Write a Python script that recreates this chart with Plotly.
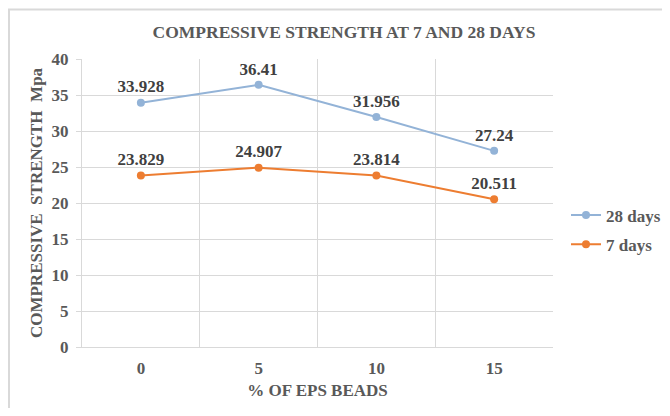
import plotly.graph_objects as go

categories = ["0", "5", "10", "15"]
days28 = [33.928, 36.41, 31.956, 27.24]
days7 = [23.829, 24.907, 23.814, 20.511]
labels28 = ["33.928", "36.41", "31.956", "27.24"]
labels7 = ["23.829", "24.907", "23.814", "20.511"]
y_ticks = [0, 5, 10, 15, 20, 25, 30, 35, 40]

FONT = "Liberation Serif"
GREY = "#595959"
W, H = 654, 400
L, T, PW, PH = 74, 51, 471, 288

fig = go.Figure()
fig.add_trace(go.Scatter(
    x=categories, y=days28, name="28 days", mode="lines+markers+text",
    legendgroup="a",
    line=dict(color="#93B3D7", width=2), marker=dict(size=8, color="#93B3D7"),
    text=labels28, textposition="top center",
    textfont=dict(family=FONT, size=17, color="#404040", weight="bold"),
))
fig.add_trace(go.Scatter(
    x=categories, y=days7, name="7 days", mode="lines+markers+text",
    legendgroup="b",
    line=dict(color="#ED7D31", width=2), marker=dict(size=8, color="#ED7D31"),
    text=labels7, textposition="top center",
    textfont=dict(family=FONT, size=17, color="#404040", weight="bold"),
))

fig.update_layout(
    width=W, height=H,
    margin=dict(l=L, r=W - L - PW, t=T, b=H - T - PH),
    paper_bgcolor="white", plot_bgcolor="white",
    font=dict(family=FONT, color=GREY, size=15, weight="bold"),
    title=dict(text="COMPRESSIVE STRENGTH AT 7 AND 28 DAYS", x=336 / W, xanchor="center",
               xref="container", y=1 - 24 / H, yanchor="middle",
               font=dict(family=FONT, size=17.5, color=GREY, weight="bold")),
    showlegend=True,
    legend=dict(xref="container", yref="container", x=558 / W, xanchor="left",
                y=1 - 222 / H, yanchor="middle",
                font=dict(family=FONT, size=17, color=GREY, weight="bold"),
                bgcolor="rgba(0,0,0,0)", itemwidth=30, tracegroupgap=4),
    xaxis=dict(type="category", range=[-0.5, 3.5], tickson="boundaries",
               showgrid=True, gridcolor="#D9D9D9", gridwidth=1, automargin=False,
               showline=True, linecolor="#D9D9D9", ticks="", ticklabelstandoff=6,
               tickfont=dict(family=FONT, size=17, color=GREY, weight="bold"),
               title=dict(text="% OF EPS BEADS", standoff=6,
                          font=dict(family=FONT, size=17, color=GREY, weight="bold"))),
    yaxis=dict(range=[0, 40], tickvals=y_ticks, showgrid=True, gridcolor="#D9D9D9",
               showline=True, linecolor="#D9D9D9", ticks="outside", ticklen=5,
               tickcolor="#D9D9D9", zeroline=False, automargin=False,
               ticklabelstandoff=4,
               tickfont=dict(family=FONT, size=17, color=GREY, weight="bold"),
               title=dict(text="COMPRESSIVE\u00a0\u00a0STRENGTH\u00a0\u00a0Mpa", standoff=4,
                          font=dict(family=FONT, size=17, color=GREY, weight="bold"))),
)

# outer chart border (left and top edges visible)
fig.add_shape(type="rect", xref="paper", yref="paper",
              x0=(1 - L) / PW, x1=(W + 20 - L) / PW,
              y0=-(H + 20 - T - PH) / PH, y1=(T + PH - 1.5) / PH,
              line=dict(color="#D9D9D9", width=2), layer="below")

fig.write_html("out.html")
